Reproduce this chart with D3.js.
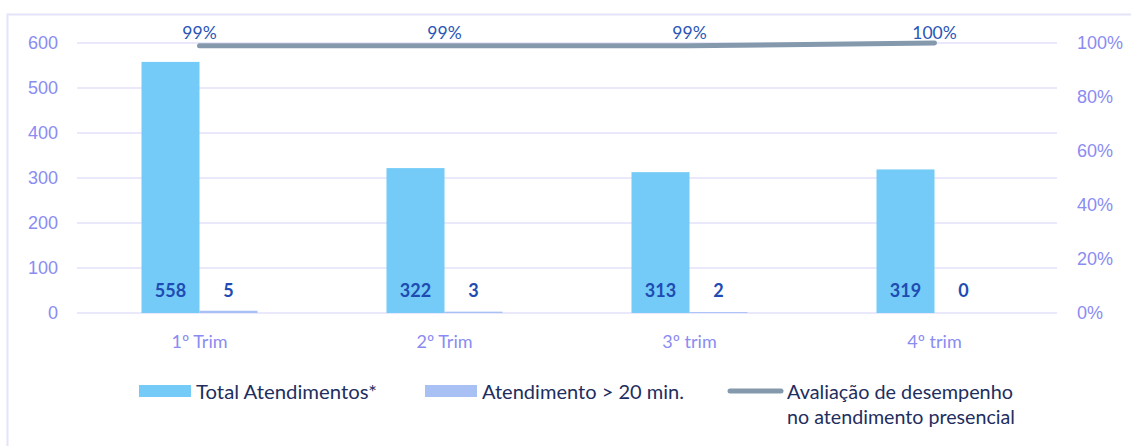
<!DOCTYPE html>
<html lang="pt">
<head>
  <meta charset="UTF-8" />
  <title>Atendimentos por trimestre</title>
  <script src="https://d3js.org/d3.v7.min.js"></script>
  <style>
    body { margin: 0; background: #fff; font-family: Lato, "Open Sans", sans-serif; }
    .tick-lbl { fill: #8A8CF2; font-size: 18px; }
    .leg { fill: #1E2E5E; font-size: 19.5px; }
  </style>
</head>
<body>
<svg id="chart" width="1131" height="446"></svg>
<script>
const categories = ["1º Trim", "2º Trim", "3º trim", "4º trim"];
const totalAtendimentos = [558, 322, 313, 319];
const atendimentoMais20 = [5, 3, 2, 0];
const avaliacao = [0.99, 0.99, 0.99, 1.00];
const leftTicks = [0, 100, 200, 300, 400, 500, 600];
const rightTicks = [0, 0.2, 0.4, 0.6, 0.8, 1.0];

const series = [
  { key: "total", name: "Total Atendimentos*", values: totalAtendimentos, color: "#74CBF7" },
  { key: "over20", name: "Atendimento > 20 min.", values: atendimentoMais20, color: "#A9C0F5" }
];

const svg = d3.select("#chart");
const plot = { left: 77, right: 1057, top: 43, bottom: 313 };

// frame
svg.append("rect")
  .attr("x", 7.5).attr("y", 14.5)
  .attr("width", 1140).attr("height", 450)
  .attr("fill", "none").attr("stroke", "#E3E3FA").attr("stroke-width", 2);

const x0 = d3.scaleBand().domain(categories)
  .range([plot.left, plot.right]).paddingInner(0.5265).paddingOuter(0.5265 / 2);
const x1 = d3.scaleBand().domain(series.map(s => s.key)).range([0, x0.bandwidth()]);
const y = d3.scaleLinear().domain([0, 600]).range([plot.bottom, plot.top]);
const yR = d3.scaleLinear().domain([0, 1]).range([plot.bottom, plot.top]);

// gridlines
svg.append("g").selectAll("line").data(leftTicks).join("line")
  .attr("x1", plot.left).attr("x2", plot.right)
  .attr("y1", d => y(d)).attr("y2", d => y(d))
  .attr("stroke", "#E2E2FA").attr("stroke-width", 1.5);

// left axis
const yAxis = svg.append("g").attr("transform", `translate(${plot.left},0)`)
  .call(d3.axisLeft(y).tickValues(leftTicks).tickSize(0).tickPadding(19));
yAxis.select(".domain").remove();
yAxis.selectAll("text").attr("class", "tick-lbl").attr("font-family", null).attr("font-size", null);

// right axis
const yAxisR = svg.append("g").attr("transform", `translate(${plot.right},0)`)
  .call(d3.axisRight(yR).tickValues(rightTicks).tickSize(0).tickPadding(20).tickFormat(d3.format(".0%")));
yAxisR.select(".domain").remove();
yAxisR.selectAll("text").attr("class", "tick-lbl").attr("font-family", null).attr("font-size", null);

// x labels
svg.append("g").selectAll("text").data(categories).join("text")
  .attr("class", "tick-lbl")
  .attr("x", d => x0(d) + x0.bandwidth() / 2)
  .attr("y", 348)
  .attr("text-anchor", "middle")
  .attr("font-size", 19)
  .text(d => d);

// bars
const groups = svg.append("g").selectAll("g").data(categories).join("g")
  .attr("transform", d => `translate(${x0(d)},0)`);

groups.selectAll("rect")
  .data((c, i) => series.map(s => ({ key: s.key, color: s.color, v: s.values[i] })))
  .join("rect")
  .attr("x", d => x1(d.key))
  .attr("width", x1.bandwidth())
  .attr("y", d => y(d.v))
  .attr("height", d => Math.max(0, y(0) - y(d.v)))
  .attr("fill", d => d.color);

groups.selectAll("text.val")
  .data((c, i) => series.map(s => ({ key: s.key, v: s.values[i] })))
  .join("text")
  .attr("class", "val")
  .attr("x", d => x1(d.key) + x1.bandwidth() / 2)
  .attr("y", 297)
  .attr("text-anchor", "middle")
  .attr("font-size", 18)
  .attr("font-weight", "bold")
  .attr("fill", "#1E4CB3")
  .text(d => d.v);

// performance line
const cx = c => x0(c) + x0.bandwidth() / 2;
const lineData = categories.map((c, i) => ({ c, v: avaliacao[i] }));

svg.append("path")
  .datum(lineData)
  .attr("fill", "none")
  .attr("stroke", "#8599AD")
  .attr("stroke-width", 5)
  .attr("stroke-linecap", "round")
  .attr("d", d3.line().x(d => cx(d.c)).y(d => yR(d.v)));

svg.append("g").selectAll("text").data(lineData).join("text")
  .attr("x", d => cx(d.c))
  .attr("y", 38.5)
  .attr("text-anchor", "middle")
  .attr("font-size", 17.5)
  .attr("fill", "#2A56B8")
  .text(d => d3.format(".0%")(d.v));

// legend
const leg = svg.append("g");
const legItems = [
  { x: 139, color: series[0].color, text: series[0].name, w: 181 },
  { x: 425, color: series[1].color, text: series[1].name, w: 202 }
];
legItems.forEach(it => {
  leg.append("rect").attr("x", it.x).attr("y", 385).attr("width", 52).attr("height", 12).attr("fill", it.color);
  leg.append("text").attr("class", "leg").attr("x", it.x + 57).attr("y", 398.5)
    .attr("textLength", it.w).attr("lengthAdjust", "spacingAndGlyphs").text(it.text);
});
leg.append("line")
  .attr("x1", 730).attr("x2", 781).attr("y1", 391).attr("y2", 391)
  .attr("stroke", "#8599AD").attr("stroke-width", 5).attr("stroke-linecap", "round");
leg.append("text").attr("class", "leg").attr("x", 787).attr("y", 399)
  .attr("textLength", 226).attr("lengthAdjust", "spacingAndGlyphs").text("Avaliação de desempenho");
leg.append("text").attr("class", "leg").attr("x", 787).attr("y", 424)
  .attr("textLength", 228).attr("lengthAdjust", "spacingAndGlyphs").text("no atendimento presencial");
</script>
</body>
</html>
